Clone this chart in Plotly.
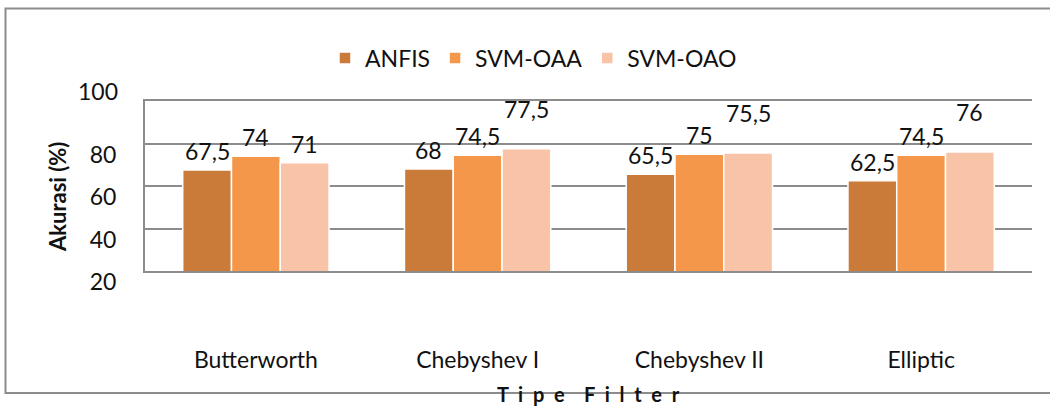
import plotly.graph_objects as go

categories = ["Butterworth", "Chebyshev I", "Chebyshev II", "Elliptic"]
series_names = ["ANFIS", "SVM-OAA", "SVM-OAO"]
anfis = [67.5, 68, 65.5, 62.5]
svm_oaa = [74, 74.5, 75, 74.5]
svm_oao = [71, 77.5, 75.5, 76]
y_ticks = [20, 40, 60, 80, 100]
label_text = {
    "ANFIS": ["67,5", "68", "65,5", "62,5"],
    "SVM-OAA": ["74", "74,5", "75", "74,5"],
    "SVM-OAO": ["71", "77,5", "75,5", "76"],
}
x_title = "Tipe Filter"
y_title = "Akurasi (%)"

colors = ["#CA7A39", "#F5974A", "#F8C3A7"]
GRID = "#8C8C8C"
FONT = "Lato, 'Open Sans', Arial, sans-serif"
W, H = 1050, 407
L, R, T, B = 145, 18, 101, 136
PW, PH = W - L - R, H - T - B
BARGAP = 0.34


def px_to_paper_x(px):
    return (px - L) / PW


def px_to_paper_y(py):
    return (H - B - py) / PH


def spaced(text):
    gap = "&nbsp;&nbsp;"
    words = [gap.join(list(w)) for w in text.split(" ")]
    return (gap * 2).join(words)


fig = go.Figure()
xs = list(range(len(categories)))
all_vals = [anfis, svm_oaa, svm_oao]
for name, vals, col in zip(series_names, all_vals, colors):
    fig.add_trace(go.Bar(
        x=xs, y=vals, name=name,
        marker=dict(color=col, line=dict(color="white", width=1.5)),
        hoverinfo="skip",
    ))

# raised labels (moved up in the original to avoid overlap)
raised = {(1, 2), (2, 2), (3, 2)}
bw = (1 - BARGAP) / 3
annotations = []
for j, name in enumerate(series_names):
    for i, v in enumerate(all_vals[j]):
        lift = 40 if (i, j) in raised else 19
        annotations.append(dict(
            x=i + (j - 1) * bw, y=v, xref="x", yref="y",
            text=label_text[name][i], showarrow=False,
            yanchor="middle", yshift=lift,
            font=dict(family=FONT, size=23, color="#111111"),
        ))

# "100" tick label sits above its gridline in the original
annotations.append(dict(
    x=0, xref="paper", xanchor="right", xshift=-25,
    y=y_ticks[-1], yref="y", yanchor="middle", yshift=10,
    text=str(y_ticks[-1]), showarrow=False,
    font=dict(family=FONT, size=23, color="#111111"),
))

# axis titles
annotations.append(dict(
    x=px_to_paper_x(57), y=px_to_paper_y(197), xref="paper", yref="paper",
    text="<b>" + y_title + "</b>", textangle=-90, showarrow=False,
    xanchor="center", yanchor="middle",
    font=dict(family=FONT, size=22, color="#111111"),
))
annotations.append(dict(
    x=px_to_paper_x(588), y=px_to_paper_y(394), xref="paper", yref="paper",
    text="<b>" + spaced(x_title) + "</b>", showarrow=False,
    xanchor="center", yanchor="middle",
    font=dict(family=FONT, size=20, color="#111111"),
))

shapes = [
    dict(type="rect", xref="paper", yref="paper",
         x0=px_to_paper_x(5.5), x1=px_to_paper_x(1060),
         y0=px_to_paper_y(393), y1=px_to_paper_y(8.5),
         line=dict(color=GRID, width=2), fillcolor="rgba(0,0,0,0)",
         layer="below"),
]

fig.update_layout(
    width=W, height=H,
    margin=dict(l=L, r=R, t=T, b=B),
    paper_bgcolor="white", plot_bgcolor="white",
    barmode="group", bargap=BARGAP, bargroupgap=0,
    font=dict(family=FONT, size=23, color="#111111"),
    showlegend=True,
    legend=dict(
        orientation="h", xref="container", yref="container",
        x=325 / W, y=1 - 58 / H, xanchor="left", yanchor="middle",
        font=dict(family=FONT, size=23, color="#111111"),
        bgcolor="rgba(0,0,0,0)", itemclick=False, itemdoubleclick=False,
        traceorder="normal",
    ),
    xaxis=dict(
        tickmode="array", tickvals=xs, ticktext=categories,
        range=[-0.5, len(categories) - 0.5],
        showgrid=False, zeroline=False,
        showline=True, mirror=True, linecolor=GRID, linewidth=2,
        ticks="", ticklabelstandoff=67,
        tickfont=dict(family=FONT, size=23, color="#111111"),
    ),
    yaxis=dict(
        range=[20, 100], tickmode="array", tickvals=y_ticks,
        ticktext=[str(t) for t in y_ticks[:-1]] + [""],
        showgrid=True, gridcolor=GRID, gridwidth=2,
        zeroline=False, showline=True, linecolor=GRID, linewidth=2,
        ticks="", ticklabelshift=11, ticklabelstandoff=22,
        tickfont=dict(family=FONT, size=23, color="#111111"),
    ),
    annotations=annotations,
    shapes=shapes,
)

fig.write_html(
    "out.html",
    config={"displayModeBar": False},
    post_script="document.body.style.margin='0';document.body.style.overflow='hidden';",
)
